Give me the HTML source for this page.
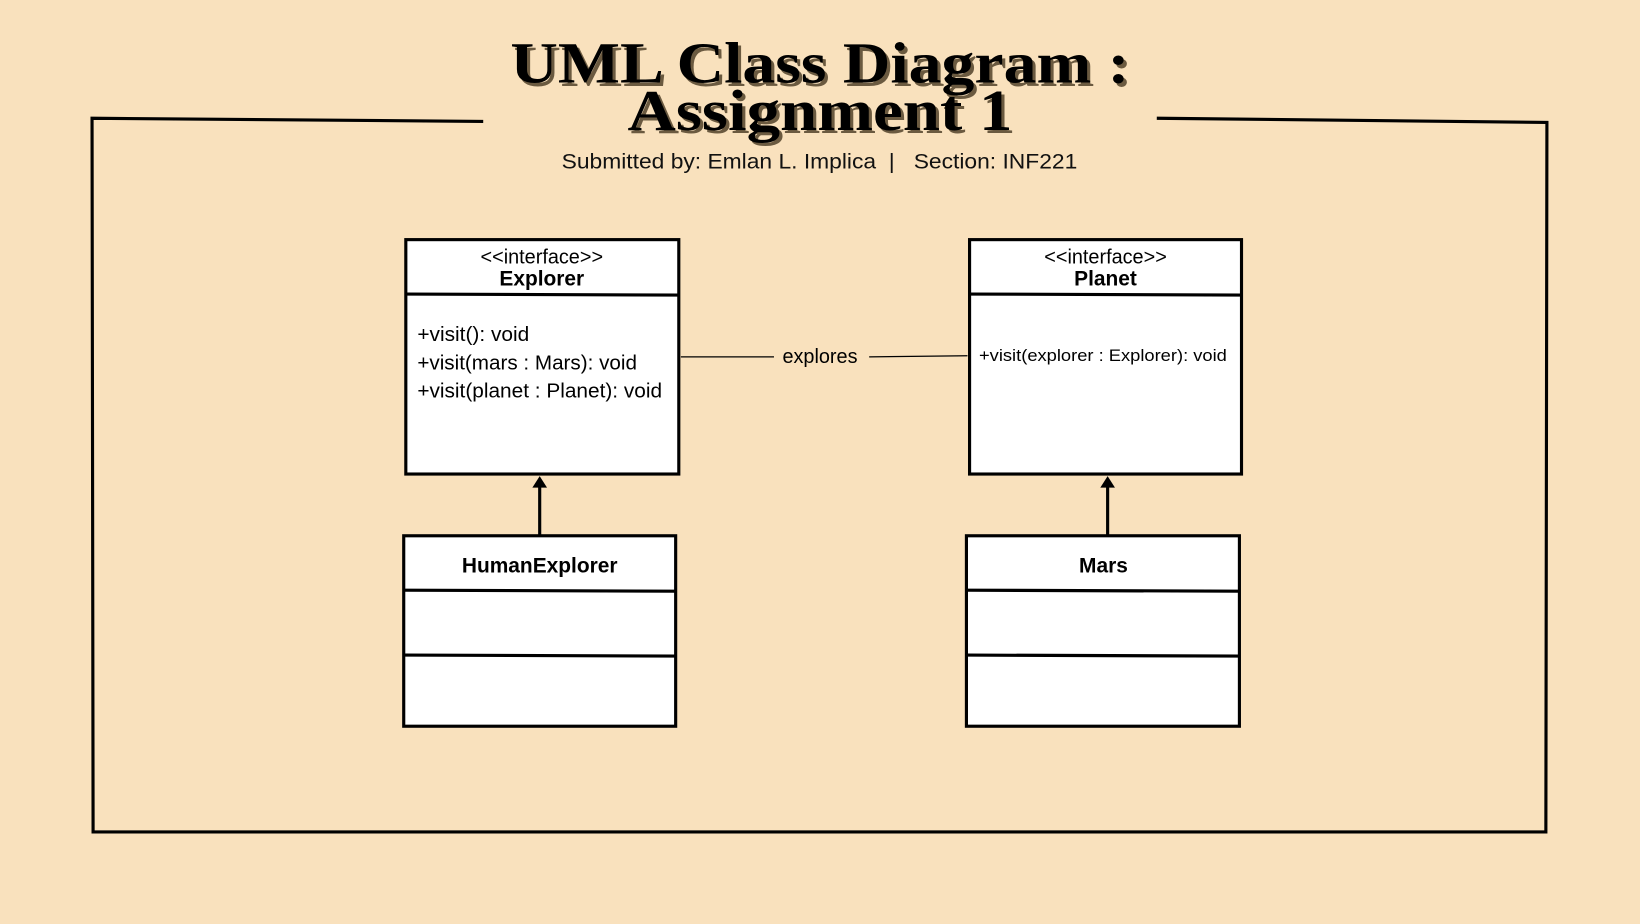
<!DOCTYPE html>
<html><head><meta charset="utf-8"><style>
html,body{margin:0;padding:0;background:#f9e1bd;}
svg{display:block;}
</style></head><body>
<svg width="1640" height="924" viewBox="0 0 1568 883" preserveAspectRatio="none" xmlns="http://www.w3.org/2000/svg">
<rect width="1568" height="883" fill="#f9e1bd"/>
<g stroke="#000" stroke-width="3" fill="none">
<path d="M462 116 L88 113 L89 795 L1478 795 L1479 117 L1106 113"/>
</g>
<g font-family="Liberation Serif, serif" font-weight="bold">
<text x="491" y="82" font-size="56" fill="#6b5a40" textLength="592" lengthAdjust="spacingAndGlyphs">UML Class Diagram :</text>
<text x="488" y="79" font-size="56" fill="#000" textLength="592" lengthAdjust="spacingAndGlyphs">UML Class Diagram :</text>
<text x="603" y="127" font-size="56" fill="#6b5a40" textLength="368" lengthAdjust="spacingAndGlyphs">Assignment 1</text>
<text x="600" y="124" font-size="56" fill="#000" textLength="368" lengthAdjust="spacingAndGlyphs">Assignment 1</text>
</g>
<text x="537" y="161" font-family="Liberation Sans, sans-serif" font-size="20" fill="#111" textLength="493" lengthAdjust="spacingAndGlyphs" xml:space="preserve">Submitted by: Emlan L. Implica  |   Section: INF221</text>
<g stroke="#000" stroke-width="3" fill="#fff">
<rect x="388" y="229" width="261" height="224"/>
<rect x="927" y="229" width="260" height="224"/>
<rect x="386" y="512" width="260" height="182"/>
<rect x="924" y="512" width="261" height="182"/>
<line x1="388" y1="281" x2="649" y2="282"/>
<line x1="927" y1="281" x2="1187" y2="282"/>
<line x1="386" y1="564" x2="646" y2="565"/>
<line x1="386" y1="626" x2="646" y2="627"/>
<line x1="924" y1="564" x2="1185" y2="565"/>
<line x1="924" y1="626" x2="1185" y2="627"/>
<line x1="516" y1="512" x2="516" y2="460"/>
<line x1="1059" y1="512" x2="1059" y2="460"/>
</g>
<path d="M509 466 L516 455 L523 466 Z M1052 466 L1059 455 L1066 466 Z" fill="#000"/>
<g stroke="#000" stroke-width="1.2">
<line x1="651" y1="341" x2="740" y2="341"/>
<line x1="831" y1="341" x2="925" y2="340"/>
</g>
<g font-family="Liberation Sans, sans-serif" fill="#000">
<text x="518" y="252" font-size="19" text-anchor="middle">&lt;&lt;interface&gt;&gt;</text>
<text x="518" y="273" font-size="20" font-weight="bold" text-anchor="middle">Explorer</text>
<text x="1057" y="252" font-size="19" text-anchor="middle">&lt;&lt;interface&gt;&gt;</text>
<text x="1057" y="273" font-size="20" font-weight="bold" text-anchor="middle">Planet</text>
<text x="399" y="326" font-size="19" textLength="107" lengthAdjust="spacingAndGlyphs">+visit(): void</text>
<text x="399" y="353" font-size="19" textLength="210" lengthAdjust="spacingAndGlyphs">+visit(mars : Mars): void</text>
<text x="399" y="380" font-size="19" textLength="234" lengthAdjust="spacingAndGlyphs">+visit(planet : Planet): void</text>
<text x="936" y="345" font-size="16" textLength="237" lengthAdjust="spacingAndGlyphs">+visit(explorer : Explorer): void</text>
<text x="784" y="347" font-size="19" text-anchor="middle">explores</text>
<text x="516" y="547" font-size="20" font-weight="bold" text-anchor="middle">HumanExplorer</text>
<text x="1055" y="547" font-size="20" font-weight="bold" text-anchor="middle">Mars</text>
</g>
</svg>
</body></html>
